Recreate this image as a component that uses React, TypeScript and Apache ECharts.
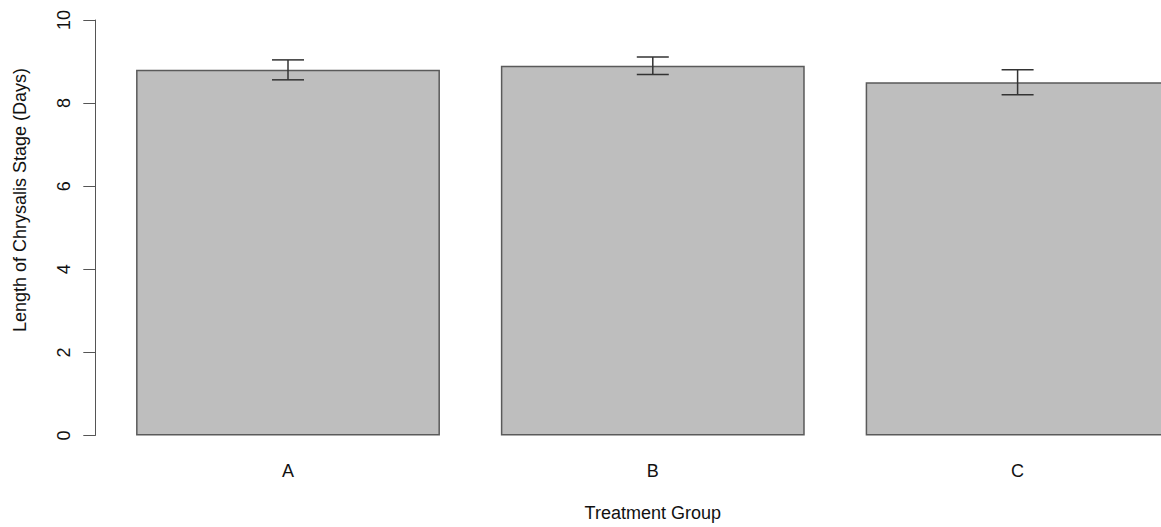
import React, { useEffect, useRef } from "react";
import * as echarts from "echarts";

// Treatment groups and the mean length of the chrysalis stage (days)
const categories = ["A", "B", "C"];
const meanDays = [8.8, 8.9, 8.5];
// Half-length of each error bar (days)
const errorDays = [0.24, 0.21, 0.3];
const yTicks = [0, 2, 4, 6, 8, 10];

const FONT = "'Liberation Sans', Arial, Helvetica, sans-serif";
const yTitle = "Length of Chrysalis Stage (Days)";
const xTitle = "Treatment Group";

export default function App() {
  const ref = useRef<HTMLDivElement>(null);

  useEffect(() => {
    if (!ref.current) return;
    const chart = echarts.init(ref.current, undefined, { renderer: "svg" });

    const errorData = categories.map((c, i) => [
      i,
      meanDays[i] - errorDays[i],
      meanDays[i] + errorDays[i],
    ]);

    chart.setOption({
      animation: false,
      backgroundColor: "#ffffff",
      textStyle: { fontFamily: FONT },
      grid: { left: 105.6, right: 0, top: 20, bottom: 86, containLabel: false },
      graphic: [
        {
          type: "text",
          x: 20,
          y: 200,
          rotation: Math.PI / 2,
          style: {
            text: yTitle,
            fontSize: 18,
            fontFamily: FONT,
            fill: "#111",
            align: "center",
            verticalAlign: "middle",
          },
        },
      ],
      xAxis: {
        type: "category",
        data: categories,
        axisLine: { show: false },
        axisTick: { show: false },
        axisLabel: { color: "#111", fontSize: 18, margin: 26, fontFamily: FONT },
        name: xTitle,
        nameLocation: "middle",
        nameGap: 68.5,
        nameTextStyle: { color: "#111", fontSize: 18, fontFamily: FONT },
        splitLine: { show: false },
      },
      yAxis: {
        type: "value",
        min: yTicks[0],
        max: yTicks[yTicks.length - 1],
        interval: 2,
        offset: 10.6,
        axisLine: { show: true, lineStyle: { color: "#555", width: 1 } },
        axisTick: { show: true, length: 11.7, lineStyle: { color: "#555", width: 1 } },
        axisLabel: {
          color: "#111",
          fontSize: 18,
          rotate: 90,
          margin: 22,
          fontFamily: FONT,
        },
        splitLine: { show: false },
      },
      series: [
        {
          type: "bar",
          data: meanDays,
          barWidth: "83.3%",
          itemStyle: { color: "#bebebe", borderColor: "#5a5a5a", borderWidth: 1.5 },
          silent: true,
        },
        {
          type: "custom",
          data: errorData,
          silent: true,
          z: 10,
          renderItem: (params: any, api: any) => {
            const x = api.value(0);
            const lo = api.coord([x, api.value(1)]);
            const hi = api.coord([x, api.value(2)]);
            const half = 16;
            const style = { stroke: "#333", lineWidth: 1.5 };
            return {
              type: "group",
              children: [
                { type: "line", shape: { x1: lo[0], y1: lo[1], x2: hi[0], y2: hi[1] }, style },
                { type: "line", shape: { x1: hi[0] - half, y1: hi[1], x2: hi[0] + half, y2: hi[1] }, style },
                { type: "line", shape: { x1: lo[0] - half, y1: lo[1], x2: lo[0] + half, y2: lo[1] }, style },
              ],
            };
          },
        },
      ],
    });

    return () => chart.dispose();
  }, []);

  return (
    <div
      style={{
        position: "fixed",
        left: 0,
        top: 0,
        width: 1161,
        height: 527,
        overflow: "hidden",
        background: "#fff",
      }}
    >
      <div ref={ref} style={{ width: 1200, height: 527 }} />
    </div>
  );
}
